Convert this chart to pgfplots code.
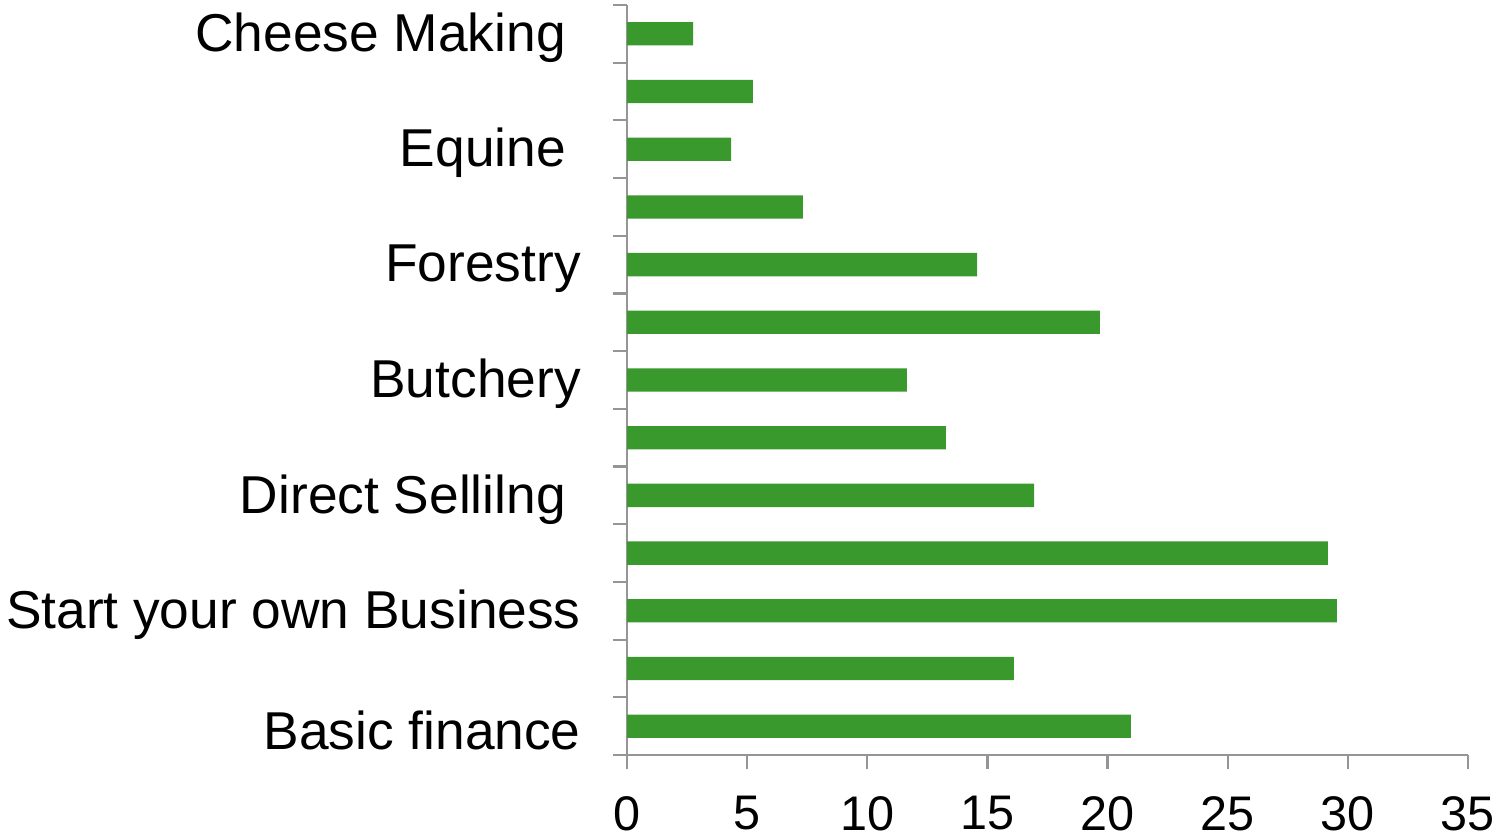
\documentclass[border=0pt]{standalone}
\usepackage{pgfplots}
\pgfplotsset{compat=1.18}
\usepackage{fontspec}
\setmainfont{Liberation Sans}
\definecolor{bargreen}{HTML}{3A992D}
\definecolor{axgray}{HTML}{959595}
\begin{document}
\begin{tikzpicture}
\begin{axis}[
  scale only axis,
  width=302.9pt, height=270.2pt,
  xbar, bar width=8.4pt,
  xmin=0, xmax=35, ymin=-0.5, ymax=12.5,
  xtick={0,5,...,35},
  ytick={-0.5,0.5,...,12.5},
  yticklabels={Basic finance,,Start your own Business,,Direct Sellilng\hspace*{0.28em},,Butchery,,Forestry,,Equine\hspace*{0.28em},,Cheese Making\hspace*{0.28em},},
  axis x line*=bottom, axis y line*=left,
  axis line style={axgray, line width=0.8pt},
  every tick/.style={axgray, line width=0.8pt},
  tick align=outside,
  major tick length=5.2pt,
  /pgf/number format/assume math mode=true,
  xticklabel style={font=\fontsize{17.5}{20}\selectfont, inner sep=0pt, anchor=north, yshift=-9.5pt},
  yticklabel style={font=\fontsize{19.2}{23}\selectfont, inner sep=0pt, anchor=east, xshift=-11.3pt, yshift=9.0pt},
  clip=false,
]
\addplot[fill=bargreen, draw=none] coordinates {
(20.97,0) (16.10,1) (29.55,2) (29.17,3) (16.94,4) (13.27,5) (11.65,6) (19.68,7) (14.57,8) (7.32,9) (4.33,10) (5.24,11) (2.75,12)};
\end{axis}
\pgfresetboundingbox
\path (current axis.south west) ++(-225.9pt,-29.2pt) coordinate (bl);
\path (current axis.north east) ++(11.2pt,1.8pt) coordinate (tr);
\useasboundingbox (bl) rectangle (tr);
\end{tikzpicture}
\end{document}
